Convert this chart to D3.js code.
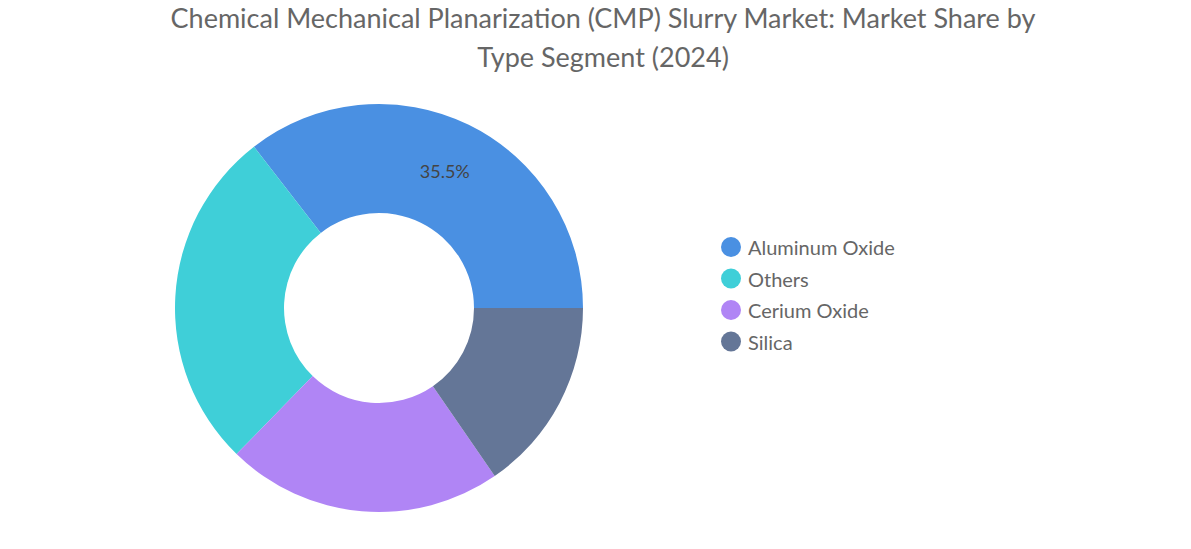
<!DOCTYPE html><html><head><meta charset="utf-8">
<script src="https://cdn.jsdelivr.net/npm/d3@7"></script>
<style>body{margin:0;background:#fff;font-family:Lato,sans-serif}</style></head><body>
<svg id="c" width="1191" height="549"></svg>
<script>
const categories=["Aluminum Oxide","Others","Cerium Oxide","Silica"];
const values=[35.5,27.2,21.9,15.4];
const colors=["#4a90e2","#3fcfd8","#b085f5","#647697"];
const svg=d3.select("#c");
svg.append("text").attr("x",603).attr("y",28).attr("text-anchor","middle").attr("font-size",27).attr("fill","#666").text("Chemical Mechanical Planarization (CMP) Slurry Market: Market Share by");
svg.append("text").attr("x",603).attr("y",67).attr("text-anchor","middle").attr("font-size",27).attr("fill","#666").text("Type Segment (2024)");
const cx=379,cy=308,R=204,r=95;
const pie=d3.pie().sort(null).startAngle(Math.PI/2).endAngle(Math.PI/2-2*Math.PI);
const arcs=pie(values);
const arc=d3.arc().innerRadius(r).outerRadius(R);
const g=svg.append("g").attr("transform",`translate(${cx},${cy})`);
g.selectAll("path").data(arcs).join("path").attr("d",arc).attr("fill",(d,i)=>colors[i]);
const la=d3.arc().innerRadius((r+R)/2).outerRadius((r+R)/2);
const c0=la.centroid(arcs[0]);
g.append("text").attr("x",c0[0]).attr("y",c0[1]).attr("text-anchor","middle").attr("dominant-baseline","middle").attr("font-size",18).attr("fill","#444").text(values[0]+"%");
const lg=svg.append("g");
categories.forEach((c,i)=>{
 const y=247+i*31.5;
 lg.append("circle").attr("cx",731).attr("cy",y).attr("r",10).attr("fill",colors[i]);
 lg.append("text").attr("x",748).attr("y",y).attr("dominant-baseline","central").attr("font-size",20).attr("fill","#666").text(c);
});
</script></body></html>
